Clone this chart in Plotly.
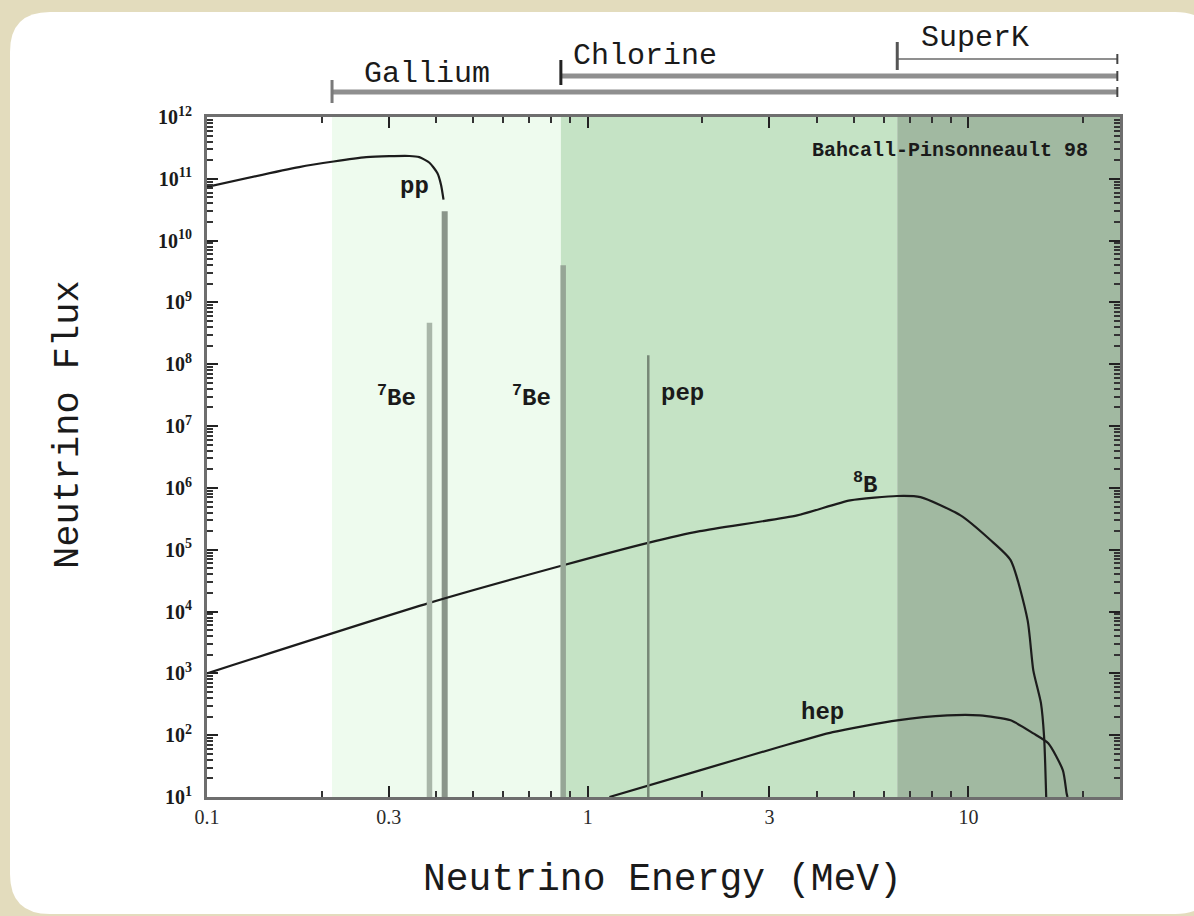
import plotly.graph_objects as go

# ---------------- data ----------------
# pp continuum (MeV, flux)
pp_E    = [0.1, 0.1746, 0.262, 0.340, 0.361, 0.384, 0.403, 0.412, 0.418]
pp_flux = [7.4e10, 1.55e11, 2.24e11, 2.34e11, 2.24e11, 1.82e11, 1.23e11, 7.9e10, 4.6e10]
pp_end_E = 0.421
pp_end_flux = [10, 3.0e10]

# 8B continuum
b8_E    = [0.1, 0.384, 0.862, 1.44, 1.97, 3.55, 4.89, 6.5, 7.48, 9.53, 11.4, 12.9, 14.3, 14.8, 15.5, 15.8, 16.0]
b8_flux = [1.0e3, 1.38e4, 5.6e4, 1.29e5, 2.0e5, 3.6e5, 6.3e5, 7.4e5, 7.1e5, 3.6e5, 1.45e5, 6.8e4, 7.2e3, 1.12e3, 330, 93, 10]

# hep continuum
hep_E    = [1.14, 1.97, 3.2, 4.4, 6.5, 8.8, 10.7, 12.9, 14.8, 16.2, 17.7, 18.1, 18.2]
hep_flux = [10, 27, 65, 112, 174, 209, 209, 174, 107, 74, 27, 11.5, 10]

# line sources
be7_E    = [0.384, 0.862]
be7_flux = [4.7e8, 4.0e9]
pep_E    = 1.442
pep_flux = 1.4e8

# detector thresholds (MeV)
detectors  = ["Gallium", "Chlorine", "SuperK"]
thresholds = [0.213, 0.85, 6.5]

# axis ticks
x_tickvals = [0.1, 0.3, 1, 3, 10]
x_ticktext = ["0.1", "0.3", "1", "3", "10"]
y_exponents = list(range(1, 13))

# ---------------- layout geometry helpers ----------------
W, H = 1194, 916
L, R, T, B = 207, 1120, 117, 797


def px_x(px):
    return (px - L) / (R - L)


def px_y(py):
    return (B - py) / (B - T)


XMAX = 25
ink = "#1c1c1c"

fig = go.Figure()

# continuum curves
fig.add_trace(go.Scatter(x=pp_E, y=pp_flux, mode="lines",
                         line=dict(color=ink, width=2.2, shape="spline", smoothing=0.6),
                         hoverinfo="skip"))
fig.add_trace(go.Scatter(x=[pp_end_E, pp_end_E], y=pp_end_flux, mode="lines",
                         line=dict(color="#8a958a", width=6), hoverinfo="skip"))
fig.add_trace(go.Scatter(x=b8_E, y=b8_flux, mode="lines",
                         line=dict(color=ink, width=2.2, shape="spline", smoothing=0.6),
                         hoverinfo="skip"))
fig.add_trace(go.Scatter(x=hep_E, y=hep_flux, mode="lines",
                         line=dict(color=ink, width=2.2, shape="spline", smoothing=0.6),
                         hoverinfo="skip"))

# 7Be lines
be_colors = ["#a9b6a9", "#96a696"]
for e, f, c in zip(be7_E, be7_flux, be_colors):
    fig.add_trace(go.Scatter(x=[e, e], y=[10, f], mode="lines",
                             line=dict(color=c, width=5.5), hoverinfo="skip"))
# pep line
fig.add_trace(go.Scatter(x=[pep_E, pep_E], y=[10, pep_flux], mode="lines",
                         line=dict(color="#778877", width=2.5), hoverinfo="skip"))

shapes = []
# white rounded panel on beige background
x0, x1 = px_x(10), px_x(1215)
y0, y1 = px_y(914), px_y(12)
rx, ry = 40 / (R - L), 40 / (B - T)
panel = (f"M {x0+rx},{y1} L {x1-rx},{y1} Q {x1},{y1} {x1},{y1-ry} "
         f"L {x1},{y0+ry} Q {x1},{y0} {x1-rx},{y0} L {x0+rx},{y0} "
         f"Q {x0},{y0} {x0},{y0+ry} L {x0},{y1-ry} Q {x0},{y1} {x0+rx},{y1} Z")
shapes.append(dict(type="path", path=panel, xref="paper", yref="paper",
                   fillcolor="white", line=dict(width=0), layer="below"))

# threshold shading
shade_colors = ["#eefbee", "#c5e3c5", "#a1b9a1"]
edges = thresholds + [XMAX * 2]
for i, c in enumerate(shade_colors):
    shapes.append(dict(type="rect", xref="x", yref="paper",
                       x0=edges[i], x1=edges[i + 1], y0=0, y1=1,
                       fillcolor=c, line=dict(width=0), layer="below"))

# detector bars above the plot
bar_y = [92, 76, 59]
bar_w = [5, 5, 2]
tick_span = [(103, 80), (85, 60), (70, 42)]
tick_col = ["#7a7a7a", "#222222", "#555555"]
bar_end = 24.6
for thr, by, bw, (ta, tb), tc in zip(thresholds, bar_y, bar_w, tick_span, tick_col):
    shapes.append(dict(type="line", xref="x", yref="paper",
                       x0=thr, x1=bar_end, y0=px_y(by), y1=px_y(by),
                       line=dict(color="#8f8f8f", width=bw)))
    shapes.append(dict(type="line", xref="x", yref="paper",
                       x0=thr, x1=thr, y0=px_y(ta), y1=px_y(tb),
                       line=dict(color=tc, width=3)))
    shapes.append(dict(type="line", xref="x", yref="paper",
                       x0=bar_end, x1=bar_end, y0=px_y(by + 5), y1=px_y(by - 5),
                       line=dict(color="#444444", width=2)))

annotations = []
mono = "Liberation Mono"


def label(text, px, py, size, bold=False, angle=0):
    f = dict(family=mono, size=size, color="#1a1a1a")
    if bold:
        f["weight"] = "bold"
    return dict(text=text, xref="paper", yref="paper", x=px_x(px), y=px_y(py),
                xanchor="center", yanchor="middle", showarrow=False,
                textangle=angle, font=f)


# detector labels
det_pos = [(427, 74), (645, 56), (975, 38)]
for name, (ax_, ay_) in zip(detectors, det_pos):
    annotations.append(label(name, ax_, ay_, 30))

# source labels
src_labels = [("pp", 414, 186), ("<sup>7</sup>Be", 396, 396), ("<sup>7</sup>Be", 531, 396),
              ("pep", 682, 393), ("<sup>8</sup>B", 865, 483), ("hep", 822, 712)]
for txt, ax_, ay_ in src_labels:
    annotations.append(label(txt, ax_, ay_, 24, bold=True))

annotations.append(label("Bahcall-Pinsonneault 98", 950, 150, 20, bold=True))

# axis titles
annotations.append(label("Neutrino Energy (MeV)", 662, 879, 38))
annotations.append(label("Neutrino Flux", 68, 425, 37, angle=-90))

# minor tick positions
x_minor = [m * 0.1 for m in range(2, 10)] + [m for m in range(2, 10)] + [20]
y_minor = [m * 10 ** k for k in range(1, 12) for m in range(2, 10)]

fig.update_layout(
    width=W, height=H, autosize=False,
    margin=dict(l=L, r=W - R, t=T, b=H - B),
    paper_bgcolor="#e3dcbd", plot_bgcolor="white",
    showlegend=False,
    shapes=shapes, annotations=annotations,
    xaxis=dict(type="log", range=[-1, 1.39794],
               tickmode="array", tickvals=x_tickvals, ticktext=x_ticktext,
               ticks="inside", ticklen=11, tickwidth=2, tickcolor="#222",
               showline=True, linecolor="#6e6e6e", linewidth=3, mirror="allticks",
               showgrid=False, zeroline=False,
               tickfont=dict(family="Liberation Serif", size=20, color="#2a2a2a"),
               minor=dict(tickmode="array", tickvals=x_minor, ticks="inside",
                          ticklen=6, tickwidth=2, tickcolor="#333", showgrid=False)),
    yaxis=dict(type="log", range=[1, 12],
               tickmode="array", tickvals=[10 ** k for k in y_exponents],
               ticktext=[f"10<sup>{k}</sup>" for k in y_exponents],
               ticks="inside", ticklen=11, tickwidth=2, tickcolor="#222",
               showline=True, linecolor="#6e6e6e", linewidth=3, mirror="allticks",
               showgrid=False, zeroline=False, ticklabelstandoff=8,
               tickfont=dict(family="Liberation Serif", size=20, color="#1a1a1a", weight="bold"),
               minor=dict(tickmode="array", tickvals=y_minor, ticks="inside",
                          ticklen=6, tickwidth=2, tickcolor="#333", showgrid=False)),
)

fig.write_html("out.html",
               config={"displayModeBar": False},
               post_script="document.body.style.margin='0';document.body.style.overflow='hidden';")
